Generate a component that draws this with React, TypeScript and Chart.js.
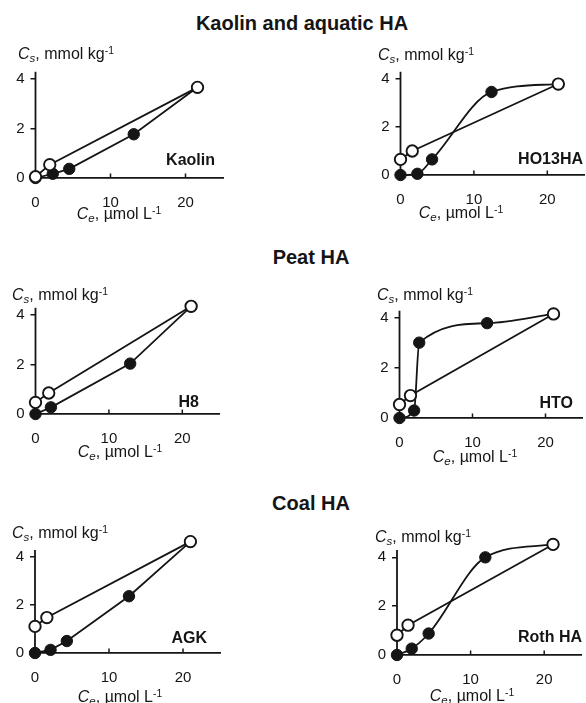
import React, { useEffect, useRef } from "react";
import { Chart, registerables } from "chart.js";

Chart.register(...registerables);

const FONT = '"Liberation Sans", Arial, Helvetica, sans-serif';
const INK = "#151515";

// ---- text ----
const groupTitles = ["Kaolin and aquatic HA", "Peat HA", "Coal HA"];
const panelNames = ["Kaolin", "HO13HA", "H8", "HTO", "AGK", "Roth HA"];

// ---- axes ----
const xTickValues = [0, 10, 20];
const yTickValues = [0, 2, 4];
const xMax = 25;
const yAxisTop = 4.3;
const yScaleMax = 4.9;

// ---- data (Ce µmol/L , Cs mmol/kg) ----
const kaolinOpenCe = [0, 1.9, 21.6];
const kaolinOpenCs = [0.05, 0.54, 3.67];
const kaolinFilledCe = [0, 2.3, 4.5, 13.1, 21.6];
const kaolinFilledCs = [0, 0.17, 0.37, 1.77, 3.67];

const ho13OpenCe = [0, 1.6, 21.5];
const ho13OpenCs = [0.65, 1.0, 3.79];
const ho13FilledCe = [0, 2.3, 4.3, 12.4, 21.5];
const ho13FilledCs = [0, 0.05, 0.65, 3.46, 3.79];

const h8OpenCe = [0, 1.8, 21.2];
const h8OpenCs = [0.47, 0.85, 4.36];
const h8FilledCe = [0, 2.1, 12.9, 21.2];
const h8FilledCs = [0, 0.27, 2.04, 4.36];

const htoOpenCe = [0, 1.5, 21.1];
const htoOpenCs = [0.54, 0.9, 4.17];
const htoFilledCe = [0, 2.0, 2.7, 12.0, 21.1];
const htoFilledCs = [0, 0.3, 3.02, 3.8, 4.17];

const agkOpenCe = [0, 1.6, 21.0];
const agkOpenCs = [1.11, 1.48, 4.65];
const agkFilledCe = [0, 2.1, 4.3, 12.7, 21.0];
const agkFilledCs = [0, 0.13, 0.5, 2.37, 4.65];

const rothOpenCe = [0, 1.5, 21.2];
const rothOpenCs = [0.81, 1.22, 4.53];
const rothFilledCe = [0, 2.0, 4.3, 12.0, 21.2];
const rothFilledCs = [0, 0.26, 0.88, 4.0, 4.53];

const toPts = (xs: number[], ys: number[]) => xs.map((x, i) => ({ x, y: ys[i] }));

type PanelCfg = {
  name: string;
  openX: number[]; openY: number[];
  filledX: number[]; filledY: number[];
  smooth: boolean;
  x0: number; y0: number; sx: number; sy: number;
  cs: [number, number]; ce: [number, number]; tag: [number, number];
};

const panels: PanelCfg[] = [
  { name: panelNames[0], openX: kaolinOpenCe, openY: kaolinOpenCs, filledX: kaolinFilledCe, filledY: kaolinFilledCs, smooth: false,
    x0: 35.5, y0: 177.5, sx: 7.47, sy: 24.6, cs: [18, 54], ce: [119, 214], tag: [215, 160] },
  { name: panelNames[1], openX: ho13OpenCe, openY: ho13OpenCs, filledX: ho13FilledCe, filledY: ho13FilledCs, smooth: true,
    x0: 400.5, y0: 174.5, sx: 7.34, sy: 23.9, cs: [378, 55], ce: [461, 213], tag: [583, 159] },
  { name: panelNames[2], openX: h8OpenCe, openY: h8OpenCs, filledX: h8FilledCe, filledY: h8FilledCs, smooth: false,
    x0: 35.5, y0: 413.5, sx: 7.31, sy: 24.6, cs: [12, 295], ce: [120, 452], tag: [199, 402] },
  { name: panelNames[3], openX: htoOpenCe, openY: htoOpenCs, filledX: htoFilledCe, filledY: htoFilledCs, smooth: true,
    x0: 399.5, y0: 417, sx: 7.28, sy: 24.75, cs: [377, 295], ce: [475, 457], tag: [573, 403] },
  { name: panelNames[4], openX: agkOpenCe, openY: agkOpenCs, filledX: agkFilledCe, filledY: agkFilledCs, smooth: false,
    x0: 35, y0: 652.5, sx: 7.4, sy: 23.85, cs: [12, 533], ce: [120, 697], tag: [207, 638] },
  { name: panelNames[5], openX: rothOpenCe, openY: rothOpenCs, filledX: rothFilledCe, filledY: rothFilledCs, smooth: true,
    x0: 397, y0: 654.7, sx: 7.35, sy: 24.35, cs: [375, 537], ce: [472, 696], tag: [582, 637] },
];

const titlePos: [number, number][] = [[302, 23], [311, 257], [311, 503]];

const axisMarks = {
  id: "axisMarks",
  beforeDatasetsDraw(chart: any) {
    const { ctx, chartArea } = chart;
    const x = chart.scales.x;
    const y = chart.scales.y;
    ctx.save();
    ctx.strokeStyle = INK;
    ctx.lineCap = "butt";
    // vertical axis line, 0 .. yAxisTop
    ctx.lineWidth = 1.8;
    const ax = x.getPixelForValue(0);
    ctx.beginPath();
    ctx.moveTo(ax, y.getPixelForValue(0) + 0.9);
    ctx.lineTo(ax, y.getPixelForValue(yAxisTop));
    ctx.stroke();
    // x ticks pointing up
    ctx.lineWidth = 1.5;
    xTickValues.filter((v) => v !== 0).forEach((v) => {
      const px = x.getPixelForValue(v);
      ctx.beginPath();
      ctx.moveTo(px, chartArea.bottom);
      ctx.lineTo(px, chartArea.bottom - 4.5);
      ctx.stroke();
    });
    ctx.restore();
  },
};

const YW = 34;
const XH = 38;
const PT = 18;
const PR = 12;

function Panel({ p }: { p: PanelCfg }) {
  const ref = useRef<HTMLCanvasElement>(null);
  const left = Math.floor(p.x0 - YW);
  const yw = p.x0 - left;
  const areaTop = p.y0 - yScaleMax * p.sy;
  const top = Math.floor(areaTop - PT);
  const pt = areaTop - top;
  const w = Math.ceil(yw + xMax * p.sx + PR);
  const h = Math.ceil(pt + yScaleMax * p.sy + XH);

  useEffect(() => {
    if (!ref.current) return;
    const common = {
      showLine: true,
      borderColor: INK,
      borderWidth: 1.8,
      pointRadius: 5.7,
      pointHoverRadius: 5.7,
      clip: false as any,
      tension: 0,
    };
    const chart = new Chart(ref.current, {
      type: "scatter",
      data: {
        datasets: [
          { ...common, data: toPts(p.openX, p.openY), pointBackgroundColor: "#ffffff", pointBorderColor: INK, pointBorderWidth: 1.9 },
          { ...common, data: toPts(p.filledX, p.filledY), pointBackgroundColor: INK, pointBorderColor: INK, pointBorderWidth: 1,
            cubicInterpolationMode: p.smooth ? "monotone" : "default" },
        ],
      } as any,
      options: {
        responsive: false,
        maintainAspectRatio: false,
        animation: false,
        events: [],
        layout: { padding: { top: pt, right: PR, left: 0, bottom: 0 } },
        plugins: { legend: { display: false }, tooltip: { enabled: false }, title: { display: false } },
        scales: {
          x: {
            type: "linear", min: 0, max: xMax,
            afterFit: (s: any) => { s.height = XH; },
            afterBuildTicks: (s: any) => { s.ticks = xTickValues.map((v) => ({ value: v })); },
            grid: { drawOnChartArea: false, drawTicks: false },
            border: { display: true, color: INK, width: 1.8 },
            ticks: { color: INK, font: { family: FONT, size: 15 }, padding: 16, maxRotation: 0, autoSkip: false },
          },
          y: {
            type: "linear", min: 0, max: yScaleMax,
            afterFit: (s: any) => { s.width = yw; },
            afterBuildTicks: (s: any) => { s.ticks = yTickValues.map((v) => ({ value: v })); },
            grid: { drawOnChartArea: false, drawTicks: true, tickLength: 5, color: INK, lineWidth: 1.5 },
            border: { display: false },
            ticks: { color: INK, font: { family: FONT, size: 15 }, padding: 6, autoSkip: false },
          },
        },
      } as any,
      plugins: [axisMarks],
    });
    return () => chart.destroy();
  }, []);

  return (
    <canvas
      ref={ref}
      width={w}
      height={h}
      style={{ position: "absolute", left, top, width: w, height: h }}
    />
  );
}

const Sub = ({ children }: { children: React.ReactNode }) => (
  <span style={{ fontSize: "0.72em", position: "relative", top: "0.3em" }}>{children}</span>
);
const Sup = ({ children }: { children: React.ReactNode }) => (
  <span style={{ fontSize: "0.65em", position: "relative", top: "-0.5em" }}>{children}</span>
);

function Txt({ x, y, align, size, bold, children }: { x: number; y: number; align: "left" | "center" | "right"; size: number; bold?: boolean; children: React.ReactNode }) {
  const tx = align === "center" ? "-50%" : align === "right" ? "-100%" : "0";
  return (
    <div
      style={{
        position: "absolute", left: x, top: y, transform: `translate(${tx}, -50%)`,
        whiteSpace: "nowrap", lineHeight: 1, fontFamily: FONT, fontSize: size,
        fontWeight: bold ? 700 : 400, color: INK,
      }}
    >
      {children}
    </div>
  );
}

export default function App() {
  return (
    <div style={{ position: "absolute", left: 0, top: 0, width: 586, height: 703, background: "#ffffff", overflow: "hidden" }}>
      {groupTitles.map((t, i) => (
        <Txt key={t} x={titlePos[i][0]} y={titlePos[i][1]} align="center" size={20} bold>{t}</Txt>
      ))}
      {panels.map((p) => (
        <React.Fragment key={p.name}>
          <Panel p={p} />
          <Txt x={p.cs[0]} y={p.cs[1]} align="left" size={16}>
            <i>C</i><Sub><i>s</i></Sub>, mmol kg<Sup>-1</Sup>
          </Txt>
          <Txt x={p.ce[0]} y={p.ce[1]} align="center" size={16}>
            <i>C</i><Sub><i>e</i></Sub>, µmol L<Sup>-1</Sup>
          </Txt>
          <Txt x={p.tag[0]} y={p.tag[1]} align="right" size={16} bold>{p.name}</Txt>
        </React.Fragment>
      ))}
    </div>
  );
}
